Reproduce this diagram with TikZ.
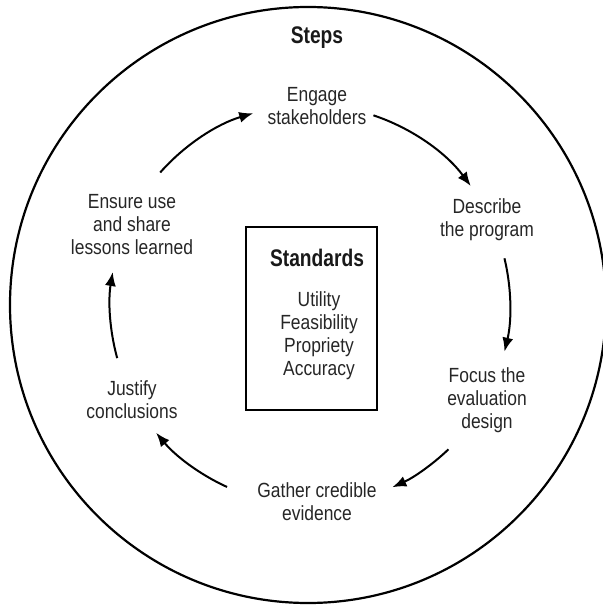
\documentclass[tikz,border=0pt]{standalone}
\usepackage{fontspec}
\setmainfont{Liberation Sans}[FakeStretch=0.85]
\newfontfamily\headfont{Liberation Sans}[FakeStretch=0.8]
\usetikzlibrary{arrows.meta}
\tikzstyle{steptext} = [align=center, inner sep=0, text=black!85, font=\fontsize{20.5}{23}\selectfont]
\tikzstyle{headtext} = [inner sep=0, text=black!90, font=\headfont\bfseries\fontsize{24}{28}\selectfont]
\tikzstyle{cyclearrow} = [-{Latex[length=14pt,width=11pt]}, line width=2pt]

\begin{document}
\begin{tikzpicture}[x=1pt, y=1pt]
      \useasboundingbox (0, 0) rectangle (603, 606);
      \node[draw, circle, line width=2.2pt, minimum size=596pt] (rim) at (308, 301) {};
      \coordinate (hub) at (310, 301);

      \node[headtext] (steps) at (317, 568) {Steps};
      \node[steptext] (engage) at (317, 500) {Engage\\stakeholders};
      \node[steptext] (describe) at (487, 386.5) {Describe\\the program};
      \node[steptext] (focus) at (487, 206) {Focus the\\evaluation\\design};
      \node[steptext] (gather) at (317, 104) {Gather credible\\evidence};
      \node[steptext] (justify) at (132, 206) {Justify\\conclusions};
      \node[steptext] (ensure) at (132, 381) {Ensure use\\and share\\lessons learned};

      \node[draw, line width=2.2pt, minimum width=131pt, minimum height=183pt] (standbox) at (311.5, 287.5) {};
      \node[headtext] (standards) at (317, 348) {Standards};
      \node[steptext] (standlist) at (319, 270.5) {Utility\\Feasibility\\Propriety\\Accuracy};

      \coordinate (a1) at ([shift={(138.5:200)}]hub);
      \coordinate (a2) at ([shift={(71.5:200)}]hub);
      \coordinate (a3) at ([shift={(13.5:200)}]hub);
      \coordinate (a4) at ([shift={(-46.2:200)}]hub);
      \coordinate (a5) at ([shift={(245.5:200)}]hub);
      \coordinate (a6) at ([shift={(195.4:200)}]hub);

      \draw[cyclearrow] (a1) arc[start angle=138.5, end angle=106.5, radius=200pt];
      \draw[cyclearrow] (a2) arc[start angle=71.5, end angle=36.5, radius=200pt];
      \draw[cyclearrow] (a3) arc[start angle=13.5, end angle=-13.5, radius=200pt];
      \draw[cyclearrow] (a4) arc[start angle=-46.2, end angle=-65.7, radius=200pt];
      \draw[cyclearrow] (a5) arc[start angle=245.5, end angle=219.7, radius=200pt];
      \draw[cyclearrow] (a6) arc[start angle=195.4, end angle=170.5, radius=200pt];
    \end{tikzpicture}
\end{document}
